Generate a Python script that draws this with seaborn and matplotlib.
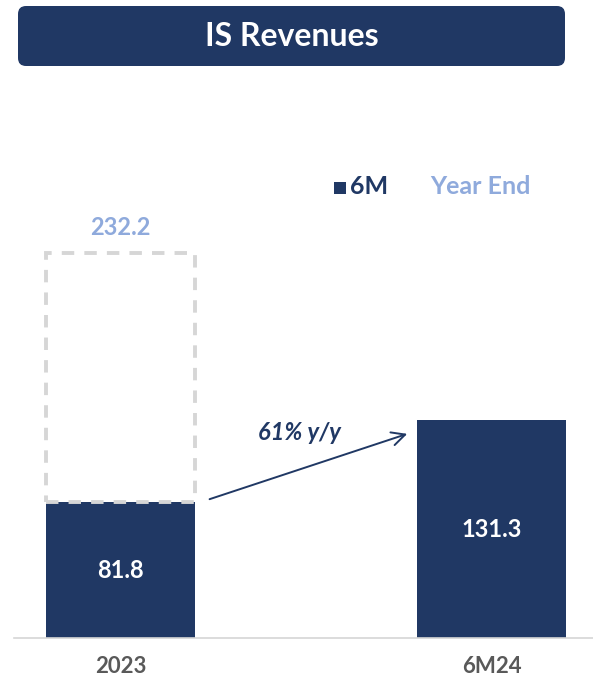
import numpy as np
import pandas as pd
import matplotlib
matplotlib.use("Agg")
import matplotlib.pyplot as plt
from matplotlib.patches import FancyBboxPatch, Rectangle
import seaborn as sns

# Data
categories = ["2023", "6M24"]
six_month = [81.8, 131.3]
year_end = [232.2, np.nan]
growth_label = "61% y/y"

NAVY = "#203864"
LIGHT_BLUE = "#8FAADC"
DASH_GRAY = "#D6D6D6"
TICK_GRAY = "#595959"

sns.set_theme(style="white")
plt.rcParams["font.family"] = ["Lato", "DejaVu Sans"]

W, H = 593, 681
fig = plt.figure(figsize=(W / 100, H / 100), dpi=100)

# axes placed in pixel terms: baseline at y=638 px from top
ax_left, ax_right = 14, 593
ax_bottom, ax_top = 638, 150
ax = fig.add_axes([ax_left / W, (H - ax_bottom) / H,
                   (ax_right - ax_left) / W, (ax_bottom - ax_top) / H])

df = pd.DataFrame({"cat": categories, "six": six_month, "ye": year_end})

# year-end outline (dashed, unfilled), sitting on top of the 6M bar
sns.barplot(data=df, x="cat", y="ye", ax=ax, width=0.4, fill=False,
            edgecolor=DASH_GRAY, linewidth=2.8, linestyle=(0, (3.2, 2.6)),
            errorbar=None, zorder=3)
for patch, base, total in zip(ax.patches, six_month, year_end):
    if np.isfinite(total):
        patch.set_y(base)
        patch.set_height(total - base)
n_outline = len(ax.patches)

# six-month bars
sns.barplot(data=df, x="cat", y="six", ax=ax, width=0.4, color=NAVY,
            saturation=1, linewidth=0, errorbar=None)
for patch in ax.patches[n_outline:]:
    patch.set_zorder(2)

px_per_x = 371.0
x0_px = 120.5
ax.set_xlim((ax_left - x0_px) / px_per_x, (ax_right - x0_px) / px_per_x)
ax.set_ylim(0, (ax_bottom - ax_top) / 1.66)

# value labels
for i, v in enumerate(six_month):
    ax.text(i, v / 2, f"{v:.1f}", ha="center", va="center", color="white",
            fontsize=17, fontweight="bold")
ax.text(0, year_end[0] + 8, f"{year_end[0]:.1f}", ha="center", va="bottom",
        color=LIGHT_BLUE, fontsize=17, fontweight="bold")

# growth arrow
ax.annotate("", xy=(0.78, 123.5), xytext=(0.233, 83.1),
            arrowprops=dict(arrowstyle="->,head_length=0.8,head_width=0.4",
                            color=NAVY, lw=1.4), zorder=4)
ax.text(0.481, 124, growth_label, ha="center", va="center", color=NAVY,
        fontsize=17, fontweight="bold", style="italic")

# axes styling
sns.despine(ax=ax, left=True, top=True, right=True)
ax.spines["bottom"].set_color(DASH_GRAY)
ax.spines["bottom"].set_linewidth(1.2)
ax.set_yticks([])
ax.set_xlabel("")
ax.set_ylabel("")
ax.tick_params(axis="x", length=0, pad=13)
for lab in ax.get_xticklabels():
    lab.set_color(TICK_GRAY)
    lab.set_fontweight("bold")
    lab.set_fontsize(16)

# legend
inch = fig.dpi_scale_trans
fig.patches.append(Rectangle((334 / 100, (H - 194) / 100), 0.12, 0.12,
                             transform=inch, color=NAVY, lw=0))
fig.text(350 / W, (H - 187) / H, "6M", ha="left", va="center", color=NAVY,
         fontsize=18, fontweight="bold")
fig.text(430 / W, (H - 187) / H, "Year End", ha="left", va="center",
         color=LIGHT_BLUE, fontsize=18, fontweight="bold")

# title banner
banner = FancyBboxPatch((0.18, (H - 66) / 100), 5.47, 0.60,
                        boxstyle="round,pad=0,rounding_size=0.08",
                        transform=inch, facecolor=NAVY, edgecolor="none")
fig.patches.append(banner)
fig.text(291.5 / W, (H - 37) / H, "IS Revenues", ha="center", va="center",
         color="white", fontsize=23, fontweight="bold")

fig.savefig("out.png", dpi=100)
